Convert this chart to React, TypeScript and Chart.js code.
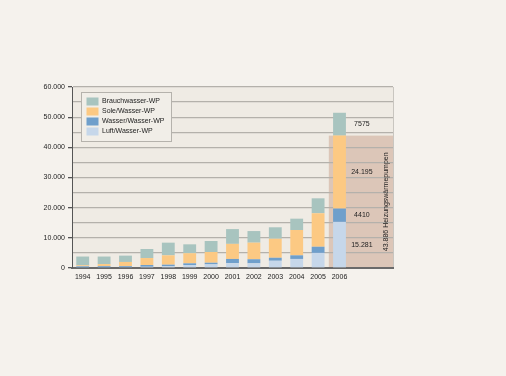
import React, { useEffect, useRef } from "react";
import { Chart, registerables } from "chart.js";

Chart.register(...registerables);

const years = ["1994", "1995", "1996", "1997", "1998", "1999", "2000", "2001", "2002", "2003", "2004", "2005", "2006", "", ""];
const luftWasser = [200, 200, 250, 400, 550, 1000, 1200, 1600, 1550, 2400, 3000, 5000, 15281, null, null];
const wasserWasser = [350, 400, 350, 600, 550, 550, 550, 1400, 1350, 1000, 1200, 2050, 4410, null, null];
const soleWasser = [350, 700, 1400, 2300, 3100, 3350, 3550, 5000, 5500, 6300, 8400, 11100, 24195, null, null];
const brauchwasser = [2900, 2500, 2100, 3000, 4200, 2950, 3650, 4900, 3850, 3800, 3750, 4950, 7575, null, null];
const seriesNames = ["Luft/Wasser-WP", "Wasser/Wasser-WP", "Sole/Wasser-WP", "Brauchwasser-WP"];
const seriesColors = ["#c6d7ea", "#6f9fcb", "#fcc983", "#a8c4bf"];
const yTickMax = 60000;
const yTickStep = 5000;
const yLabelStep = 10000;
const highlightIndex = 12;
const heatingSuffix = "Heizungswärmepumpen";

const FONT = "'Liberation Sans', Arial, Helvetica, sans-serif";

function fmt(n: number): string {
  if (n < 10000) return String(n);
  return String(n).replace(/\B(?=(\d{3})+(?!\d))/g, ".");
}

const heatingTotal =
  (luftWasser[highlightIndex] as number) +
  (wasserWasser[highlightIndex] as number) +
  (soleWasser[highlightIndex] as number);

const bgPlugin = {
  id: "bgPlugin",
  beforeDraw(chart: any) {
    const { ctx, chartArea, scales } = chart;
    const { left, right, top, bottom } = chartArea;
    ctx.save();
    ctx.fillStyle = "#f5f2ed";
    ctx.fillRect(0, 0, chart.width, chart.height);
    ctx.fillStyle = "#efebe4";
    ctx.fillRect(left, top, right - left, bottom - top);
    const x = scales.x;
    const y = scales.y;
    const half = (x.getPixelForValue(1) - x.getPixelForValue(0)) / 2;
    const sx = x.getPixelForValue(highlightIndex) - half;
    const sy = y.getPixelForValue(heatingTotal);
    ctx.fillStyle = "#dcc6b8";
    ctx.fillRect(sx, sy, right - sx, bottom - sy);
    ctx.strokeStyle = "#c9c6c0";
    ctx.lineWidth = 1;
    ctx.beginPath();
    ctx.moveTo(right + 0.5, top);
    ctx.lineTo(right + 0.5, bottom);
    ctx.stroke();
    ctx.restore();
  },
};

const overlayPlugin = {
  id: "overlayPlugin",
  afterDatasetsDraw(chart: any) {
    const { ctx, chartArea, scales } = chart;
    const x = scales.x;
    const y = scales.y;
    ctx.save();
    // legend
    const lx = chartArea.left + 9.5;
    const ly = chartArea.top + 5.5;
    const lw = 90;
    const lh = 49;
    ctx.fillStyle = "#f1eee8";
    ctx.fillRect(lx, ly, lw, lh);
    ctx.strokeStyle = "#b5b2ac";
    ctx.lineWidth = 1;
    ctx.strokeRect(lx, ly, lw, lh);
    ctx.font = `7px ${FONT}`;
    ctx.textBaseline = "middle";
    ctx.textAlign = "left";
    const ds = chart.data.datasets;
    for (let i = 0; i < ds.length; i++) {
      const d = ds[ds.length - 1 - i];
      const rowY = ly + 9 + i * 10;
      ctx.fillStyle = d.backgroundColor;
      ctx.fillRect(lx + 5, rowY - 4, 12, 8);
      ctx.fillStyle = "#222";
      ctx.fillText(d.label, lx + 20.5, rowY);
    }
    // value labels for highlighted bar
    const labelX = x.getPixelForValue(highlightIndex + 1) + 1;
    ctx.textAlign = "center";
    let cum = 0;
    for (let i = 0; i < ds.length; i++) {
      const v = ds[i].data[highlightIndex] as number;
      const mid = y.getPixelForValue(cum + v / 2);
      cum += v;
      ctx.fillStyle = "#222";
      ctx.fillText(fmt(v), labelX, mid);
    }
    // rotated label
    const rx = chartArea.right - 6.5;
    const ry = (y.getPixelForValue(heatingTotal) + chartArea.bottom) / 2;
    ctx.translate(rx, ry);
    ctx.rotate(-Math.PI / 2);
    ctx.fillStyle = "#222";
    ctx.fillText(`${fmt(heatingTotal)} ${heatingSuffix}`, 0, 0);
    ctx.restore();
  },
};

export default function App() {
  const ref = useRef<HTMLCanvasElement | null>(null);
  useEffect(() => {
    document.body.style.margin = "0";
    document.body.style.background = "#f5f2ed";
    const canvas = ref.current!;
    const values = [luftWasser, wasserWasser, soleWasser, brauchwasser];
    const chart = new Chart(canvas, {
      type: "bar",
      data: {
        labels: years,
        datasets: values.map((data, i) => ({
          label: seriesNames[i],
          data,
          backgroundColor: seriesColors[i],
          borderWidth: 0,
          barPercentage: 0.6,
          categoryPercentage: 1,
        })),
      },
      options: {
        responsive: false,
        animation: false,
        layout: { padding: { left: 0, right: 113, top: 87, bottom: 0 } },
        plugins: { legend: { display: false }, tooltip: { enabled: false } },
        scales: {
          x: {
            stacked: true,
            offset: true,
            grid: { display: false, tickLength: 0, drawTicks: false },
            border: { display: true, color: "#6a6a6a", width: 2 },
            ticks: {
              autoSkip: false,
              maxRotation: 0,
              padding: 5,
              color: "#222",
              font: { family: FONT, size: 7 },
            },
            afterFit(s: any) {
              s.height = 108;
            },
          },
          y: {
            stacked: true,
            min: 0,
            max: yTickMax,
            grid: {
              color: "#b4b1ab",
              lineWidth: 1.3,
              tickLength: 4,
              tickColor: (c: any) =>
                c.tick && c.tick.value % yLabelStep === 0 ? "#555" : "rgba(0,0,0,0)",
            },
            border: { display: true, color: "#555", width: 1 },
            ticks: {
              stepSize: yTickStep,
              padding: 3,
              color: "#222",
              font: { family: FONT, size: 7 },
              callback: (v: any) => (Number(v) % yLabelStep === 0 ? fmt(Number(v)) : ""),
            },
            afterFit(s: any) {
              s.width = 72;
            },
          },
        },
      },
      plugins: [bgPlugin, overlayPlugin],
    });
    return () => chart.destroy();
  }, []);
  return (
    <div style={{ width: 506, height: 376, background: "#f5f2ed" }}>
      <canvas ref={ref} width={506} height={376} style={{ display: "block", width: 506, height: 376 }} />
    </div>
  );
}
